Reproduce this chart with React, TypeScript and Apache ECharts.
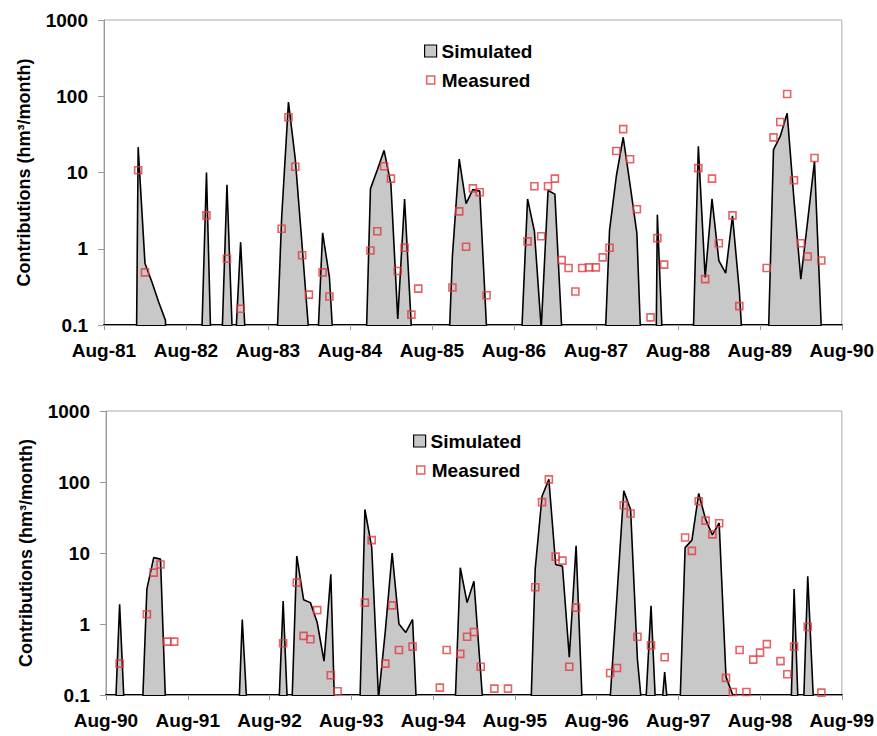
import React, { useEffect, useRef } from "react";
import * as echarts from "echarts";

// ---------- tick labels ----------
const xLabelsTop = ["Aug-81", "Aug-82", "Aug-83", "Aug-84", "Aug-85", "Aug-86", "Aug-87", "Aug-88", "Aug-89", "Aug-90"];
const xLabelsBottom = ["Aug-90", "Aug-91", "Aug-92", "Aug-93", "Aug-94", "Aug-95", "Aug-96", "Aug-97", "Aug-98", "Aug-99"];
const yTickLabels = ["0.1", "1", "10", "100", "1000"];

// ---------- simulated monthly contributions (hm3/month), month 0 = Aug of first year; 0 = no flow ----------
const simulatedTop = [
  0, 0, 0, 0, 0, 21.5, 0.64, 0.37, 0.2, 0.115,
  0, 0, 0, 0, 0.008, 10, 0.0035, 0.012, 6.9, 0.022,
  1.22, 0.019, 0, 0, 0, 0.011, 2.5, 84, 15, 1.1,
  0.075, 0.016, 1.62, 0.42, 0.012, 0, 0, 0, 0.0035, 6.1,
  10.8, 19.5, 7, 0.12, 4.5, 0.09, 0, 0, 0, 0,
  0.004, 0.8, 15, 3.9, 6, 5.7, 0.09, 0, 0, 0,
  0, 0.04, 4.5, 1.7, 0.09, 5.8, 5.2, 0.09, 0, 0,
  0, 0, 0, 0.01, 1.74, 9, 29, 7, 1.6, 0.006,
  0, 2.8, 0.017, 0, 0, 0, 0.01, 22, 0.42, 4.5,
  0.7, 0.48, 2.7, 0.28, 0.009, 0, 0, 0.01, 20, 30,
  60, 4.4, 0.4, 2.3, 14, 0.09, 0, 0, 0,
];

const simulatedBottom = [
  0, 0.0074, 1.9, 0.014, 0, 0.0083, 3.1, 8.6, 8.2, 0.015,
  0, 0, 0, 0, 0, 0, 0, 0, 0, 0.0034,
  1.16, 0.019, 0, 0, 0, 0.009, 2.1, 0.01, 9.1, 2.2,
  2.0, 1.05, 0.3, 5.0, 0.002, 0, 0, 0.0076, 41, 12,
  0.09, 0.8, 10, 1.0, 0.76, 1.16, 0.0085, 0, 0, 0,
  0, 0.017, 6.2, 2.0, 4.0, 0.2, 0.01, 0, 0, 0,
  0, 0, 0.0048, 6, 63, 109, 6.9, 6.5, 0.34, 12.6,
  0.043, 0, 0, 0, 0.09, 2.5, 75, 41, 0.32, 0.03,
  1.8, 0.014, 0.21, 0.018, 0.013, 11.9, 15.2, 69, 30, 18,
  26.5, 0.18, 0.1, 0, 0, 0, 0, 0, 0, 0,
  0.0006, 3.1, 0.005, 4.7, 0.038, 0, 0, 0, 0,
];

// ---------- measured contributions ----------
const measuredTopMonths = [
  5, 6, 15, 18, 20, 26, 27, 28, 29, 30, 32, 33, 39, 40, 41, 42, 43, 44, 45, 46,
  51, 52, 53, 54, 55, 56, 62, 63, 64, 65, 66, 67, 68, 69, 70, 71, 72, 73, 74, 75,
  76, 77, 78, 80, 81, 82, 87, 88, 89, 90, 92, 93, 97, 98, 99, 100, 101, 102, 103, 104, 105,
];
const measuredTopValues = [
  10.7, 0.49, 2.74, 0.74, 0.163, 1.83, 53, 11.9, 0.82, 0.25, 0.49, 0.237, 0.95, 1.7, 12.1, 8.3, 0.51, 1.03, 0.137, 0.3,
  0.31, 3.09, 1.06, 6.2, 5.5, 0.246, 1.25, 6.6, 1.46, 6.6, 8.3, 0.71, 0.56, 0.275, 0.56, 0.57, 0.57, 0.77, 1.03, 19.1,
  37, 14.9, 3.3, 0.126, 1.38, 0.62, 11.4, 0.4, 8.3, 1.18, 2.74, 0.177, 0.56, 28.9, 46, 107, 7.9, 1.18, 0.79, 15.5, 0.7,
];

const measuredBottomMonths = [
  2, 6, 7, 8, 9, 10, 26, 28, 29, 30, 31, 33, 34, 38, 39, 41, 42, 43, 45, 49,
  50, 52, 53, 54, 55, 57, 59, 63, 64, 65, 66, 67, 68, 69, 74, 75, 76, 77, 78, 80,
  82, 85, 86, 87, 88, 89, 90, 91, 92, 93, 94, 95, 96, 97, 99, 100, 101, 103, 105,
];
const measuredBottomValues = [
  0.277, 1.37, 5.3, 6.9, 0.565, 0.565, 0.535, 3.83, 0.68, 0.61, 1.57, 0.19, 0.113, 2.0, 15.2, 0.277, 1.83, 0.43, 0.48, 0.127,
  0.43, 0.38, 0.66, 0.77, 0.25, 0.123, 0.123, 3.3, 52, 109, 8.9, 7.8, 0.25, 1.7, 0.204, 0.24, 47, 36, 0.66, 0.5,
  0.34, 16.5, 10.7, 53.5, 28.6, 18.3, 26.2, 0.174, 0.11, 0.43, 0.11, 0.315, 0.395, 0.52, 0.3, 0.196, 0.48, 0.91, 0.108,
];

// zero flow cannot sit on a log axis: draw it far below the axis minimum (clipped by the grid)
const ZERO_FLOOR = 1e-9;

const FONT = 'Arial, "Liberation Sans", sans-serif';
const RED = "#e23a3f";
const GRAY = "#c8c8c8";

const textBold = { fontFamily: FONT, fontWeight: "bold" as const, fontSize: 19, color: "#000" };

function yLabel(v: number): string {
  const idx = Math.round(Math.log10(v)) + 1;
  return yTickLabels[idx] ?? String(v);
}

function makeXAxis(gridIndex: number, labels: string[]) {
  return {
    type: "value",
    gridIndex,
    min: 0,
    max: 108,
    interval: 12,
    axisLine: { show: true, onZero: false, lineStyle: { color: "#000", width: 2 } },
    axisTick: { show: true, length: 5, lineStyle: { color: "#999", width: 1 } },
    axisLabel: {
      ...textBold,
      margin: 16,
      showMinLabel: true,
      showMaxLabel: true,
      formatter: (v: number) => labels[Math.round(v / 12)] ?? "",
    },
    splitLine: { show: false },
  };
}

function makeYAxis(gridIndex: number) {
  return {
    type: "log",
    logBase: 10,
    gridIndex,
    min: 0.1,
    max: 1000,
    name: "Contributions (hm³/month)",
    nameLocation: "middle",
    nameGap: 71,
    nameTextStyle: { ...textBold, fontSize: 18 },
    axisLine: { show: true, onZero: false, lineStyle: { color: "#999", width: 1 } },
    axisTick: { show: true, length: 6, lineStyle: { color: "#999", width: 1 } },
    axisLabel: { ...textBold, margin: 16, formatter: yLabel },
    splitLine: { show: false },
    minorTick: { show: false },
    minorSplitLine: { show: false },
  };
}

function simSeries(idx: number, values: number[]) {
  return {
    name: "Simulated",
    type: "line",
    xAxisIndex: idx,
    yAxisIndex: idx,
    data: values.map((v, i) => [i, v > 0 ? v : ZERO_FLOOR]),
    symbol: "none",
    showSymbol: false,
    clip: true,
    lineStyle: { color: "#000", width: 1.6 },
    itemStyle: { color: GRAY },
    areaStyle: { color: GRAY, opacity: 1, origin: "start" },
    z: 2,
  };
}

function measSeries(idx: number, months: number[], values: number[]) {
  return {
    name: "Measured",
    type: "scatter",
    xAxisIndex: idx,
    yAxisIndex: idx,
    data: months.map((m, i) => [m, values[i]]),
    symbol: "rect",
    symbolSize: 7,
    itemStyle: { color: "rgba(0,0,0,0)", borderColor: RED, borderWidth: 1.6 },
    z: 3,
  };
}

function legendPair(simLeft: number, simTop: number, measLeft: number, measTop: number) {
  return [
    {
      left: simLeft,
      top: simTop,
      padding: 0,
      itemWidth: 12,
      itemHeight: 12,
      selectedMode: false,
      data: [{ name: "Simulated", icon: "rect", itemStyle: { color: GRAY, borderColor: "#000", borderWidth: 1.2 } }],
      textStyle: { ...textBold, lineHeight: 20 },
    },
    {
      left: measLeft,
      top: measTop,
      padding: 0,
      itemWidth: 8,
      itemHeight: 8,
      selectedMode: false,
      data: [{ name: "Measured", icon: "rect", itemStyle: { color: "#fff", borderColor: RED, borderWidth: 1.5 } }],
      textStyle: { ...textBold, lineHeight: 20, padding: [0, 0, 0, 2] },
    },
  ];
}

export default function App() {
  const ref = useRef<HTMLDivElement>(null);

  useEffect(() => {
    if (!ref.current) return;
    const chart = echarts.init(ref.current, undefined, { renderer: "svg" });
    chart.setOption({
      animation: false,
      backgroundColor: "#fff",
      grid: [
        { left: 104, top: 20, width: 738, height: 305, show: true, borderColor: "#aaa", borderWidth: 1, backgroundColor: "transparent" },
        { left: 106, top: 411, width: 737, height: 284, show: true, borderColor: "#aaa", borderWidth: 1, backgroundColor: "transparent" },
      ],
      xAxis: [makeXAxis(0, xLabelsTop), makeXAxis(1, xLabelsBottom)],
      yAxis: [makeYAxis(0), makeYAxis(1)],
      legend: [...legendPair(424, 41, 426, 70), ...legendPair(413, 431, 416, 460)],
      series: [
        simSeries(0, simulatedTop),
        measSeries(0, measuredTopMonths, measuredTopValues),
        simSeries(1, simulatedBottom),
        measSeries(1, measuredBottomMonths, measuredBottomValues),
      ],
    });
    return () => chart.dispose();
  }, []);

  return (
    <div
      ref={ref}
      style={{ position: "absolute", left: 0, top: 0, width: 877, height: 736, background: "#fff" }}
    />
  );
}
